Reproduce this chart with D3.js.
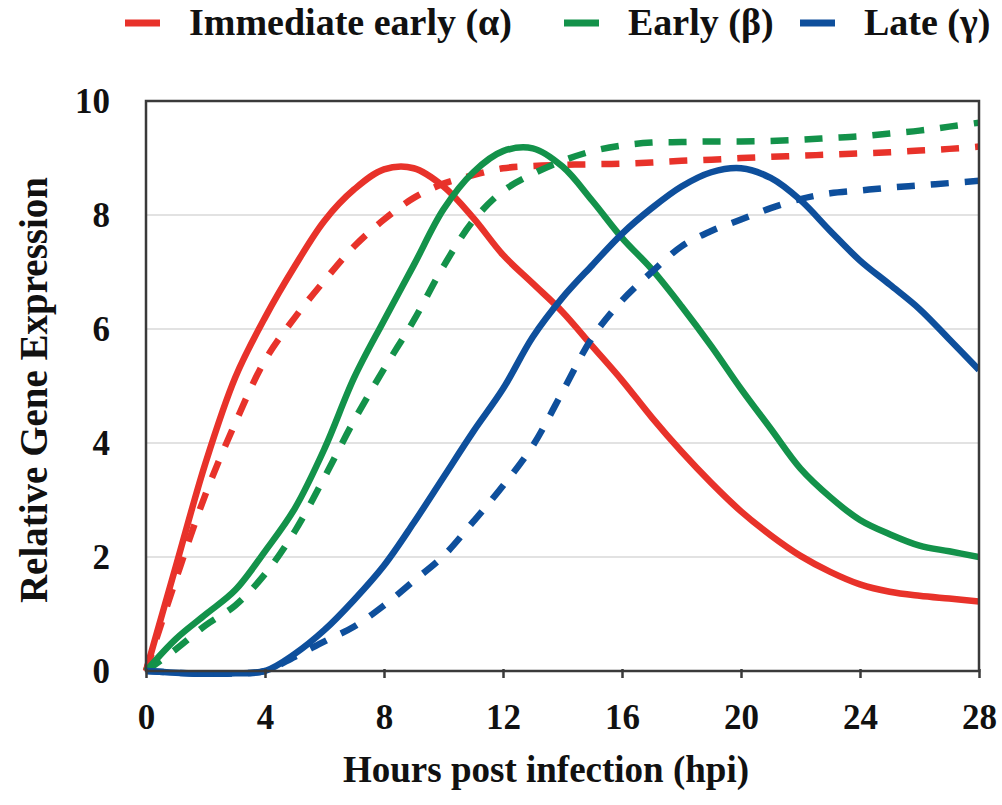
<!DOCTYPE html>
<html>
<head>
<meta charset="utf-8">
<script src="https://cdn.jsdelivr.net/npm/d3@7"></script>
<style>
  html, body { margin: 0; padding: 0; background: #ffffff; }
  svg { display: block; }
  text { font-family: "Liberation Serif", "Times New Roman", serif; font-weight: bold; fill: #111; }
</style>
</head>
<body>
<svg id="chart" width="1002" height="805"></svg>
<script>
// Sampling times (hours post infection)
const hours = [0,1,2,3,4,5,6,7,8,9,10,11,12,13,14,15,16,17,18,19,20,21,22,23,24,25,26,27,28];

// Immediate early (alpha) gene class
const alphaSolid  = [0,1.83,3.65,5.15,6.2,7.1,7.9,8.45,8.8,8.82,8.5,7.95,7.3,6.8,6.3,5.7,5.1,4.45,3.85,3.3,2.8,2.38,2.02,1.74,1.52,1.39,1.32,1.27,1.22];
const alphaDashed = [0,1.6,3.1,4.35,5.45,6.2,6.85,7.45,7.92,8.3,8.55,8.7,8.82,8.86,8.88,8.89,8.9,8.92,8.95,8.97,9.0,9.02,9.04,9.06,9.08,9.1,9.13,9.16,9.2];

// Early (beta) gene class
const betaSolid   = [0,0.56,0.99,1.42,2.1,2.85,3.9,5.15,6.15,7.12,8.1,8.75,9.12,9.17,8.85,8.25,7.6,7.05,6.4,5.7,4.95,4.25,3.55,3.05,2.65,2.4,2.2,2.1,2.0];
const betaDashed  = [0,0.38,0.8,1.15,1.7,2.45,3.4,4.4,5.3,6.15,7.1,7.9,8.42,8.72,8.95,9.12,9.22,9.27,9.28,9.29,9.29,9.3,9.32,9.35,9.38,9.43,9.48,9.55,9.62];

// Late (gamma) gene class
const gammaSolid  = [0,-0.03,-0.05,-0.04,0,0.3,0.72,1.25,1.85,2.6,3.4,4.2,4.95,5.86,6.55,7.12,7.67,8.12,8.5,8.75,8.82,8.65,8.26,7.72,7.2,6.78,6.35,5.82,5.28];
const gammaDashed = [0,-0.03,-0.05,-0.04,0,0.25,0.52,0.78,1.15,1.58,2.02,2.62,3.25,3.95,4.9,5.85,6.5,7.0,7.45,7.72,7.92,8.12,8.28,8.38,8.43,8.48,8.52,8.56,8.6];

// Axis ticks
const xTicks = [0,4,8,12,16,20,24,28];
const yTicks = [0,2,4,6,8,10];
const gridTicks = [2,4,6,8];

// Legend entries
const legendLabels = ["Immediate early (\u03b1)", "Early (\u03b2)", "Late (\u03b3)"];
const colors = ["#e8322a", "#13924a", "#0e4f9c"];

const series = [
  { values: alphaSolid,  color: colors[0], dashed: false },
  { values: alphaDashed, color: colors[0], dashed: true  },
  { values: betaSolid,   color: colors[1], dashed: false },
  { values: betaDashed,  color: colors[1], dashed: true  },
  { values: gammaSolid,  color: colors[2], dashed: false },
  { values: gammaDashed, color: colors[2], dashed: true  }
];

const svg = d3.select("#chart");
const plot = { left: 146, right: 979, top: 101, bottom: 671 };

const x = d3.scaleLinear().domain([0, 28]).range([plot.left, plot.right]);
const y = d3.scaleLinear().domain([0, 10]).range([plot.bottom, plot.top]);

// Horizontal gridlines
svg.append("g")
  .selectAll("line")
  .data(gridTicks)
  .join("line")
  .attr("x1", plot.left).attr("x2", plot.right)
  .attr("y1", d => y(d)).attr("y2", d => y(d))
  .attr("stroke", "#e2e2e2").attr("stroke-width", 2);

// Curves
const line = d3.line()
  .x((d, i) => x(hours[i]))
  .y(d => y(d))
  .curve(d3.curveCatmullRom.alpha(0.5));

svg.append("clipPath").attr("id", "plotclip")
  .append("rect")
  .attr("x", plot.left - 6).attr("y", plot.top - 6)
  .attr("width", plot.right - plot.left + 6).attr("height", plot.bottom - plot.top + 12);

svg.append("g").attr("clip-path", "url(#plotclip)")
  .selectAll("path")
  .data(series)
  .join("path")
  .attr("d", d => line(d.values))
  .attr("fill", "none")
  .attr("stroke", d => d.color)
  .attr("stroke-width", 6.5)
  .attr("stroke-linejoin", "round")
  .attr("stroke-dasharray", d => d.dashed ? "18,16" : null);

// Frame
svg.append("rect")
  .attr("x", plot.left).attr("y", plot.top)
  .attr("width", plot.right - plot.left).attr("height", plot.bottom - plot.top)
  .attr("fill", "none").attr("stroke", "#3a3a3a").attr("stroke-width", 2.5);

// X axis
const xAxis = d3.axisBottom(x).tickValues(xTicks).tickSize(7).tickPadding(26).tickFormat(d3.format("d"));
const gx = svg.append("g").attr("transform", `translate(0,${plot.bottom})`).call(xAxis);
gx.select(".domain").remove();
gx.selectAll(".tick line").attr("stroke", "#3a3a3a").attr("stroke-width", 2.5).attr("y1", -2);
gx.selectAll(".tick text").attr("font-size", 35).attr("font-family", "Liberation Serif").attr("font-weight", "bold").attr("fill", "#111");

// Y axis
const yAxis = d3.axisLeft(y).tickValues(yTicks).tickSize(0).tickPadding(36).tickFormat(d3.format("d"));
const gy = svg.append("g").attr("transform", `translate(${plot.left},0)`).call(yAxis);
gy.select(".domain").remove();
gy.selectAll(".tick text").attr("font-size", 35).attr("font-family", "Liberation Serif").attr("font-weight", "bold").attr("fill", "#111");

// Axis titles
svg.append("text")
  .attr("x", 546).attr("y", 782)
  .attr("text-anchor", "middle")
  .attr("font-size", 37)
  .text("Hours post infection (hpi)");

svg.append("text")
  .attr("transform", "translate(47,390) rotate(-90)")
  .attr("text-anchor", "middle")
  .attr("font-size", 39)
  .text("Relative Gene Expression");

// Legend
const legendX = [125, 564, 800];
const legend = svg.append("g");
legendLabels.forEach((label, i) => {
  legend.append("line")
    .attr("x1", legendX[i]).attr("x2", legendX[i] + 35)
    .attr("y1", 23).attr("y2", 23)
    .attr("stroke", colors[i]).attr("stroke-width", 7);
  legend.append("text")
    .attr("x", legendX[i] + 64).attr("y", 35)
    .attr("font-size", 38)
    .text(label);
});
</script>
</body>
</html>
